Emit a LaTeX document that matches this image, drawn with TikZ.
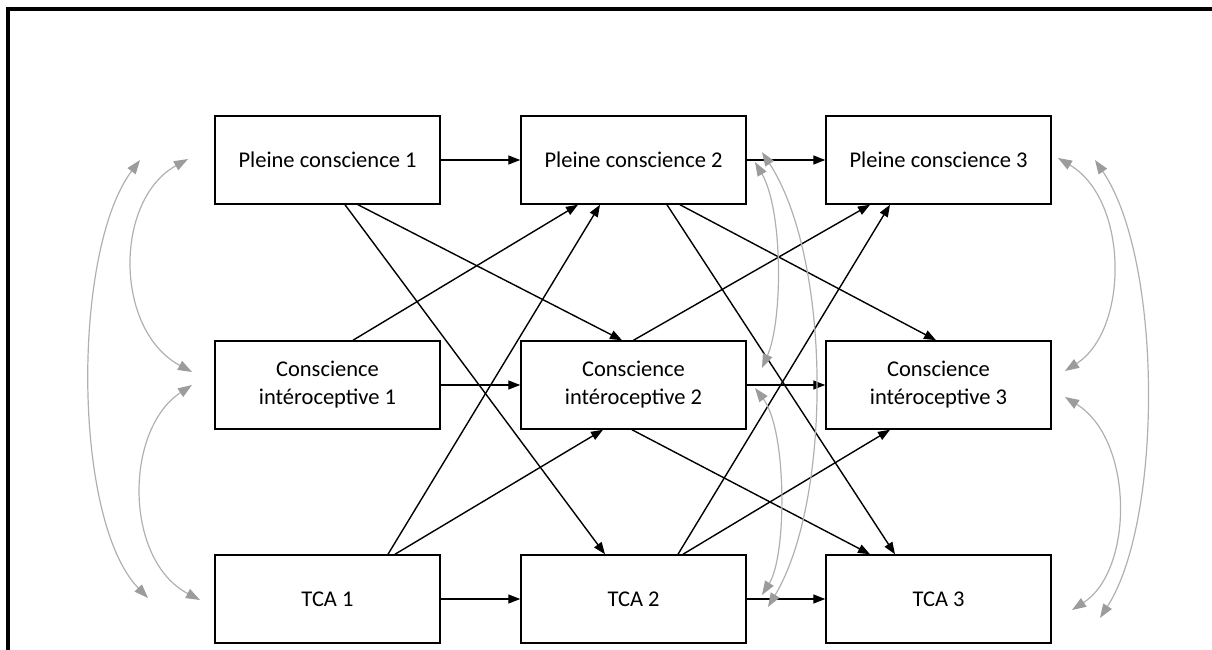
\documentclass[tikz,border=0pt]{standalone}
\usepackage{fontspec}
\setmainfont{Carlito}
\usetikzlibrary{arrows.meta}
\definecolor{curvegray}{HTML}{B0B0B0}
\definecolor{tipgray}{HTML}{9C9C9C}
\begin{document}
\begin{tikzpicture}[x=1pt,y=-1pt,
  box/.style={draw=black,line width=1.5pt,rectangle,minimum width=225pt,minimum height=88pt,inner sep=0pt,align=center,font=\fontsize{22.5}{28}\selectfont},
  arr/.style={draw=black,line width=1.4pt,-{Triangle[length=12pt,width=9pt]}},
  gtip/.style={Triangle[length=14pt,width=10pt,color=tipgray,fill=tipgray]},
  garr/.style={draw=curvegray,line width=1.2pt,{Triangle[length=14pt,width=10pt,color=tipgray,fill=tipgray]}-{Triangle[length=14pt,width=10pt,color=tipgray,fill=tipgray]}}
]
\useasboundingbox (0,0) rectangle (1212,650);
\draw[line width=3.2pt] (8,654) -- (8,9) -- (1216,9);

% nodes
\node[box] (pc1) at (327.5,160) {Pleine conscience 1};
\node[box] (pc2) at (633.5,160) {Pleine conscience 2};
\node[box] (pc3) at (938.5,160) {Pleine conscience 3};
\node[box] (ci1) at (327.5,385) {Conscience\\intéroceptive 1};
\node[box] (ci2) at (633.5,385) {Conscience\\intéroceptive 2};
\node[box] (ci3) at (938.5,385) {Conscience\\intéroceptive 3};
\node[box] (tca1) at (327.5,599) {TCA 1};
\node[box] (tca2) at (633.5,599) {TCA 2};
\node[box] (tca3) at (938.5,599) {TCA 3};

% horizontal arrows
\draw[arr] (pc1.east) -- (pc2.west);
\draw[arr] (pc2.east) -- (pc3.west);
\draw[arr] (ci1.east) -- (ci2.west);
\draw[arr] (ci2.east) -- (ci3.west);
\draw[arr] (tca1.east) -- (tca2.west);
\draw[arr] (tca2.east) -- (tca3.west);

% diagonal arrows column 1 -> 2
\draw[arr] ([xshift=17.5pt]pc1.south) -- ([xshift=-28.5pt]tca2.north);
\draw[arr] ([xshift=30.5pt]pc1.south) -- ([xshift=-11.5pt]ci2.north);
\draw[arr] ([xshift=25.5pt]ci1.north) -- ([xshift=-55.5pt]pc2.south);
\draw[arr] ([xshift=60.5pt]tca1.north) -- ([xshift=-33.5pt]pc2.south);
\draw[arr] ([xshift=67.5pt]tca1.north) -- ([xshift=-30.5pt]ci2.south);

% diagonal arrows column 2 -> 3
\draw[arr] ([xshift=33.5pt]pc2.south) -- ([xshift=-43.5pt]tca3.north);
\draw[arr] ([xshift=46.5pt]pc2.south) -- ([xshift=-2.5pt]ci3.north);
\draw[arr] ([xshift=0pt]ci2.north) -- ([xshift=-68.5pt]pc3.south);
\draw[arr] ([xshift=-1.5pt]ci2.south) -- ([xshift=-68.5pt]tca3.north);
\draw[arr] ([xshift=44.5pt]tca2.north) -- ([xshift=-48.5pt]pc3.south);
\draw[arr] ([xshift=49.5pt]tca2.north) -- ([xshift=-48.5pt]ci3.south);

% curve end points
\coordinate (lo1) at (140,160);
\coordinate (lo2) at (148,598);
\coordinate (lu1) at (188,159);
\coordinate (lu2) at (192,372);
\coordinate (ll1) at (192,385);
\coordinate (ll2) at (200,600);
\coordinate (ma1) at (755,162);
\coordinate (ma2) at (762,368);
\coordinate (mb1) at (762,152);
\coordinate (mb2) at (768,607);
\coordinate (mc1) at (755,388);
\coordinate (mc2) at (762,595);
\coordinate (ru1) at (1058,158);
\coordinate (ru2) at (1065,371);
\coordinate (rl1) at (1065,397);
\coordinate (rl2) at (1072,610);
\coordinate (ro1) at (1095,160);
\coordinate (ro2) at (1100,618);

% gray curved double arrows
\draw[garr] (lo1) .. controls (72,250) and (72,520) .. (lo2);
\draw[garr] (lu1) .. controls (114,200) and (114,330) .. (lu2);
\draw[garr] (ll1) .. controls (124,430) and (124,560) .. (ll2);
\draw[garr] (ma1) .. controls (783,210) and (783,320) .. (ma2);
\draw[garr] (mb1) .. controls (832,260) and (832,500) .. (mb2);
\draw[garr] (mc1) .. controls (787,430) and (787,555) .. (mc2);
\draw[garr] (ru1) .. controls (1129,200) and (1129,330) .. (ru2);
\draw[garr] (rl1) .. controls (1134,440) and (1134,570) .. (rl2);
\draw[garr] (ro1) .. controls (1163,260) and (1163,520) .. (ro2);
\end{tikzpicture}
\end{document}
